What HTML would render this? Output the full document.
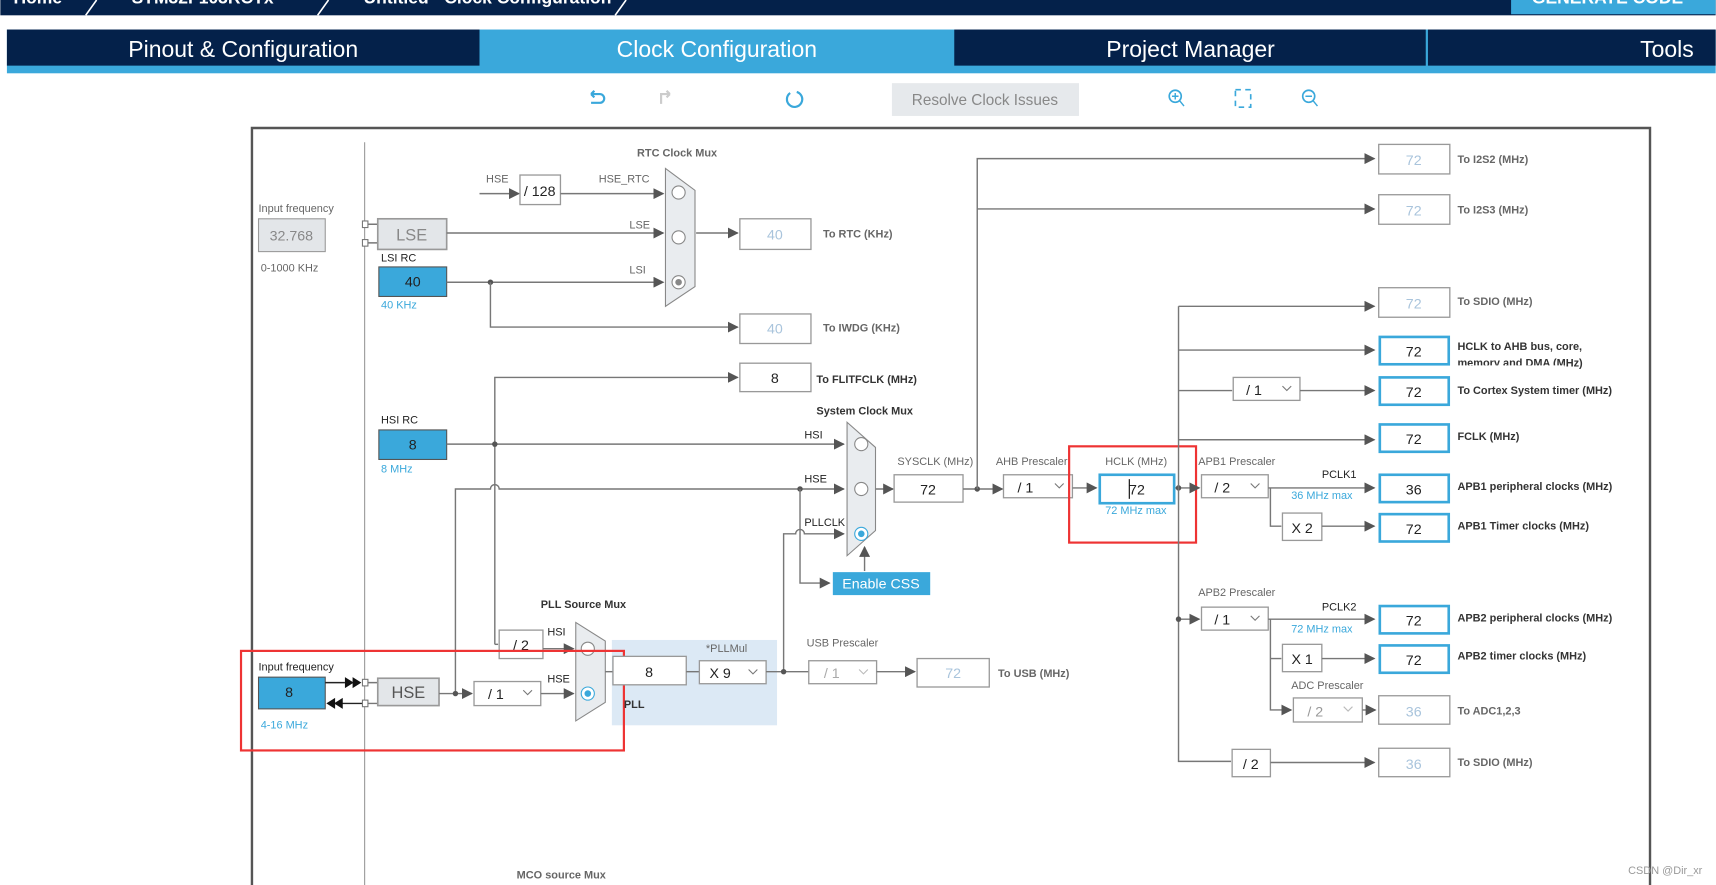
<!DOCTYPE html>
<html><head><meta charset="utf-8"><style>
html,body{margin:0;padding:0;background:#fff;overflow:hidden}
svg{display:block}
text{font-family:"Liberation Sans Narrow","Liberation Sans",sans-serif}
.l{font-size:10px;fill:#666}
.d{font-size:10px;fill:#222}
.b{font-size:10px;fill:#333;font-weight:bold}
.bl{font-size:10px;fill:#3aa8db}
.v{font-size:13px;fill:#222;text-anchor:middle}
.vg{font-size:13px;fill:#a9c4dc;text-anchor:middle}
.ln{stroke:#777;stroke-width:1.3;fill:none}
.bx{fill:#fff;stroke:#999;stroke-width:1.2}
.bb{fill:#fff;stroke:#3aa8db;stroke-width:2.4}
.tab{font-size:21px;fill:#fff;font-family:"Liberation Sans",sans-serif}
</style></head><body>
<svg width="1716" height="885" viewBox="0 0 1568 809" xmlns="http://www.w3.org/2000/svg">
<defs>
<marker id="a" markerWidth="10" markerHeight="10" refX="9" refY="5" orient="auto" markerUnits="userSpaceOnUse"><path d="M0,0 L10,5 L0,10 z" fill="#555"/></marker>
</defs>
<!-- top bar -->
<rect x="0" y="0" width="1568" height="14" fill="#04214a"/>
<text x="12" y="3" font-size="16" fill="#fff" font-weight="bold" font-family="Liberation Sans">Home</text>
<text x="120" y="3" font-size="16" fill="#fff" font-weight="bold" font-family="Liberation Sans">STM32F103RCTx</text>
<text x="332" y="3" font-size="16" fill="#fff" font-weight="bold" font-family="Liberation Sans">Untitled - Clock Configuration</text>
<path d="M78,14 L88,0 M290,14 L300,0 M562,14 L572,0" stroke="#fff" stroke-width="1.5"/>
<rect x="1381" y="0" width="187" height="13" fill="#3aa8db"/>
<text x="1400" y="3" font-size="16" fill="#fff" font-weight="bold" font-family="Liberation Sans">GENERATE CODE</text>
<!-- tabs -->
<rect x="6" y="27" width="1562" height="40" fill="#3aa8db"/>
<rect x="6" y="27" width="432" height="33" fill="#04214a"/>
<rect x="872" y="27" width="431" height="33" fill="#04214a"/>
<rect x="1305" y="27" width="263" height="33" fill="#04214a"/>
<text class="tab" x="222" y="52" style="text-anchor:middle">Pinout &amp; Configuration</text>
<text class="tab" x="655" y="52" style="text-anchor:middle">Clock Configuration</text>
<text class="tab" x="1088" y="52" style="text-anchor:middle">Project Manager</text>
<text class="tab" x="1548" y="52" style="text-anchor:end">Tools</text>
<!-- toolbar -->
<path d="M540,86 h8 a4,4 0 0 1 0,8 h-8 M540,86 l3,-3 M540,86 l3,3" stroke="#3aa8db" stroke-width="2" fill="none"/>
<path d="M612,86 h-8 v9 M612,86 l-3,-3 M612,86 l-3,3" stroke="#ccc" stroke-width="2" fill="none"/>
<path d="M722,85 a7,7 0 1 0 6,-1" stroke="#3aa8db" stroke-width="2" fill="none"/>
<rect x="815" y="76" width="171" height="30" fill="#e6e9ec"/>
<text x="900" y="96" font-size="14" fill="#888" text-anchor="middle">Resolve Clock Issues</text>
<circle cx="1074" cy="88" r="5.5" stroke="#3aa8db" stroke-width="1.5" fill="none"/><path d="M1078,92 l4,5 M1071,88 h6 M1074,85 v6" stroke="#3aa8db" stroke-width="1.3"/>
<rect x="1129" y="82" width="14" height="16" stroke="#3aa8db" stroke-width="1.5" fill="none" stroke-dasharray="5,4"/>
<circle cx="1196" cy="88" r="5.5" stroke="#3aa8db" stroke-width="1.5" fill="none"/><path d="M1200,92 l4,5 M1193,88 h6" stroke="#3aa8db" stroke-width="1.3"/>
<!-- diagram frame -->
<path d="M230,812 V117 H1508 V812" stroke="#555" stroke-width="2.2" fill="none"/>
<line x1="333" y1="130" x2="333" y2="812" stroke="#999" stroke-width="1"/>
<!-- LSE area -->
<text class="l" x="236" y="194">Input frequency</text>
<rect x="236" y="200" width="61" height="30" fill="#e3e6e9" stroke="#999"/>
<text x="266" y="220" font-size="13" fill="#888" text-anchor="middle">32.768</text>
<text class="l" x="238" y="248">0-1000 KHz</text>
<rect x="331" y="202" width="5" height="6" fill="#fff" stroke="#777"/><rect x="331" y="219" width="5" height="6" fill="#fff" stroke="#777"/>
<path d="M336,205 h9 M336,222 h9" class="ln"/>
<rect x="345" y="200" width="63" height="28" fill="#e3e6e9" stroke="#999" stroke-width="1.5"/>
<text x="376" y="220" font-size="15" fill="#888" text-anchor="middle">LSE</text>
<text class="d" x="348" y="239">LSI RC</text>
<rect x="346" y="244" width="62" height="27" fill="#3aa8db" stroke="#555"/>
<text class="v" x="377" y="262">40</text>
<text class="bl" x="348" y="282">40 KHz</text>
<!-- RTC mux -->
<text class="l" x="582" y="143" font-weight="bold">RTC Clock Mux</text>
<text class="l" x="444" y="167">HSE</text>
<line x1="438" y1="177" x2="474" y2="177" class="ln" marker-end="url(#a)"/>
<rect x="475" y="160" width="37" height="27" class="bx"/>
<text class="v" x="493" y="179">/ 128</text>
<text class="l" x="547" y="167">HSE_RTC</text>
<line x1="512" y1="177" x2="606" y2="177" class="ln" marker-end="url(#a)"/>
<text class="l" x="575" y="209">LSE</text>
<line x1="408" y1="213" x2="606" y2="213" class="ln" marker-end="url(#a)"/>
<text class="l" x="575" y="250">LSI</text>
<line x1="408" y1="258" x2="606" y2="258" class="ln" marker-end="url(#a)"/>
<circle cx="448" cy="258" r="2.5" fill="#555"/>
<polygon points="608,154 635,174 635,262 608,280" fill="#e9ecef" stroke="#888"/>
<circle cx="620" cy="176" r="6" fill="#fff" stroke="#888"/><circle cx="620" cy="217" r="6" fill="#fff" stroke="#888"/><circle cx="620" cy="258" r="6" fill="#fff" stroke="#888"/><circle cx="620" cy="258" r="3" fill="#888"/>
<line x1="636" y1="213" x2="674" y2="213" class="ln" marker-end="url(#a)"/>
<rect x="676" y="200" width="65" height="28" class="bx"/><text class="vg" x="708" y="219">40</text>
<text class="l" x="752" y="217" font-weight="bold" font-size="11">To RTC (KHz)</text>
<path d="M448,258 V299 H674" class="ln" marker-end="url(#a)"/>
<rect x="676" y="287" width="65" height="27" class="bx"/><text class="vg" x="708" y="305">40</text>
<text class="l" x="752" y="303" font-weight="bold" font-size="11">To IWDG (KHz)</text>
<!-- FLITF -->
<path d="M452,589 V345 H674" class="ln" marker-end="url(#a)"/>
<rect x="676" y="332" width="65" height="26" class="bx"/><text class="v" x="708" y="350">8</text>
<text class="b" x="746" y="350">To FLITFCLK (MHz)</text>
<!-- HSI -->
<text class="d" x="348" y="387">HSI RC</text>
<rect x="346" y="393" width="62" height="27" fill="#3aa8db" stroke="#555"/>
<text class="v" x="377" y="411">8</text>
<text class="bl" x="348" y="432">8 MHz</text>
<line x1="408" y1="406" x2="771" y2="406" class="ln" marker-end="url(#a)"/>
<circle cx="452" cy="406" r="2.5" fill="#555"/>
<text class="d" x="735" y="401">HSI</text>
<path d="M416,634 V447 H448 a4,4 0 0 1 8,0 H771" class="ln" marker-end="url(#a)"/>
<text class="d" x="735" y="441">HSE</text>
<circle cx="731" cy="447" r="2.5" fill="#555"/>
<path d="M731,447 V533 H758" class="ln" marker-end="url(#a)"/>
<path d="M716,614 V488 H727 a4,4 0 0 1 8,0 H771" class="ln" marker-end="url(#a)"/>
<text class="d" x="735" y="481">PLLCLK</text>
<text class="b" x="746" y="379">System Clock Mux</text>
<polygon points="774,386 800,409 800,485 774,508" fill="#e9ecef" stroke="#888"/>
<circle cx="787" cy="406" r="6" fill="#fff" stroke="#888"/><circle cx="787" cy="447" r="6" fill="#fff" stroke="#888"/><circle cx="787" cy="488" r="6" fill="#fff" stroke="#3aa8db"/><circle cx="787" cy="488" r="3" fill="#3aa8db"/>
<line x1="790" y1="522" x2="790" y2="500" class="ln" marker-end="url(#a)"/>
<rect x="761" y="523" width="89" height="21" fill="#3aa8db"/>
<text x="805" y="538" font-size="13" fill="#fff" text-anchor="middle">Enable CSS</text>
<!-- SYSCLK -->
<text class="l" x="820" y="425">SYSCLK (MHz)</text>
<line x1="800" y1="447" x2="816" y2="447" class="ln" marker-end="url(#a)"/>
<rect x="817" y="434" width="63" height="25" class="bx"/><text class="v" x="848" y="452">72</text>
<line x1="880" y1="447" x2="916" y2="447" class="ln" marker-end="url(#a)"/>
<circle cx="893" cy="447" r="2.5" fill="#555"/>
<path d="M893,447 V145 H1256" class="ln" marker-end="url(#a)"/>
<line x1="893" y1="191" x2="1256" y2="191" class="ln" marker-end="url(#a)"/>
<rect x="1260" y="132" width="65" height="27" class="bx"/><text class="vg" x="1292" y="151">72</text>
<text class="l" x="1332" y="149" font-weight="bold">To I2S2 (MHz)</text>
<rect x="1260" y="178" width="65" height="27" class="bx"/><text class="vg" x="1292" y="197">72</text>
<text class="l" x="1332" y="195" font-weight="bold">To I2S3 (MHz)</text>
<!-- AHB -->
<text class="l" x="910" y="425">AHB Prescaler</text>
<rect x="917" y="434" width="63" height="21" class="bx"/><text class="v" x="937" y="450">/ 1</text><path d="M964,442 l4,4 l4,-4" stroke="#777" fill="none"/>
<line x1="980" y1="446" x2="1002" y2="446" class="ln" marker-end="url(#a)"/>
<text class="l" x="1010" y="425">HCLK (MHz)</text>
<rect x="1005" y="434" width="68" height="26" class="bb"/><text class="v" x="1039" y="452">72</text>
<line x1="1032" y1="438" x2="1032" y2="456" stroke="#000"/>
<text class="bl" x="1010" y="470">72 MHz max</text>
<rect x="977" y="408" width="116" height="88" fill="none" stroke="#e33" stroke-width="2"/>
<line x1="1074" y1="446" x2="1096" y2="446" class="ln" marker-end="url(#a)"/>
<circle cx="1077" cy="446" r="2.5" fill="#555"/>
<path d="M1077,280 V696 H1125" class="ln"/>
<line x1="1077" y1="280" x2="1256" y2="280" class="ln" marker-end="url(#a)"/>
<rect x="1260" y="263" width="65" height="27" class="bx"/><text class="vg" x="1292" y="282">72</text>
<text class="l" x="1332" y="279" font-weight="bold">To SDIO (MHz)</text>
<line x1="1077" y1="320" x2="1256" y2="320" class="ln" marker-end="url(#a)"/>
<rect x="1261" y="308" width="63" height="25" class="bb"/><text class="v" x="1292" y="326">72</text>
<text class="b" x="1332" y="320">HCLK to AHB bus, core,</text>
<text class="b" x="1332" y="335">memory and DMA (MHz)</text>
<rect x="1330" y="334" width="100" height="8" fill="#fff"/>
<line x1="1077" y1="357" x2="1126" y2="357" class="ln"/>
<rect x="1127" y="345" width="61" height="21" class="bx"/><text class="v" x="1146" y="361">/ 1</text><path d="M1172,353 l4,4 l4,-4" stroke="#777" fill="none"/>
<line x1="1188" y1="357" x2="1256" y2="357" class="ln" marker-end="url(#a)"/>
<rect x="1261" y="345" width="63" height="25" class="bb"/><text class="v" x="1292" y="363">72</text>
<text class="b" x="1332" y="360">To Cortex System timer (MHz)</text>
<line x1="1077" y1="402" x2="1256" y2="402" class="ln" marker-end="url(#a)"/>
<rect x="1261" y="388" width="63" height="25" class="bb"/><text class="v" x="1292" y="406">72</text>
<text class="b" x="1332" y="402">FCLK (MHz)</text>
<!-- APB1 -->
<text class="l" x="1095" y="425">APB1 Prescaler</text>
<rect x="1098" y="434" width="61" height="21" class="bx"/><text class="v" x="1117" y="450">/ 2</text><path d="M1143,442 l4,4 l4,-4" stroke="#777" fill="none"/>
<line x1="1159" y1="446" x2="1256" y2="446" class="ln" marker-end="url(#a)"/>
<text class="d" x="1208" y="437">PCLK1</text>
<text class="bl" x="1180" y="456">36 MHz max</text>
<rect x="1261" y="434" width="63" height="25" class="bb"/><text class="v" x="1292" y="452">36</text>
<text class="b" x="1332" y="448">APB1 peripheral clocks (MHz)</text>
<path d="M1161,446 V481 H1171" class="ln"/>
<rect x="1172" y="469" width="36" height="25" class="bx"/><text class="v" x="1190" y="487">X 2</text>
<line x1="1208" y1="481" x2="1256" y2="481" class="ln" marker-end="url(#a)"/>
<rect x="1261" y="470" width="63" height="25" class="bb"/><text class="v" x="1292" y="488">72</text>
<text class="b" x="1332" y="484">APB1 Timer clocks (MHz)</text>
<!-- APB2 -->
<text class="l" x="1095" y="545">APB2 Prescaler</text>
<line x1="1077" y1="566" x2="1096" y2="566" class="ln" marker-end="url(#a)"/>
<circle cx="1077" cy="566" r="2.5" fill="#555"/>
<rect x="1098" y="555" width="61" height="21" class="bx"/><text class="v" x="1117" y="571">/ 1</text><path d="M1143,563 l4,4 l4,-4" stroke="#777" fill="none"/>
<line x1="1159" y1="566" x2="1256" y2="566" class="ln" marker-end="url(#a)"/>
<text class="d" x="1208" y="558">PCLK2</text>
<text class="bl" x="1180" y="578">72 MHz max</text>
<rect x="1261" y="554" width="63" height="25" class="bb"/><text class="v" x="1292" y="572">72</text>
<text class="b" x="1332" y="568">APB2 peripheral clocks (MHz)</text>
<path d="M1161,566 V649 H1180" class="ln" marker-end="url(#a)"/>
<line x1="1161" y1="602" x2="1171" y2="602" class="ln"/>
<rect x="1172" y="589" width="36" height="25" class="bx"/><text class="v" x="1190" y="607">X 1</text>
<line x1="1208" y1="602" x2="1256" y2="602" class="ln" marker-end="url(#a)"/>
<rect x="1261" y="590" width="63" height="25" class="bb"/><text class="v" x="1292" y="608">72</text>
<text class="b" x="1332" y="603">APB2 timer clocks (MHz)</text>
<text class="l" x="1180" y="630">ADC Prescaler</text>
<rect x="1182" y="638" width="63" height="22" class="bx"/><text class="vg" x="1202" y="655" style="fill:#999">/ 2</text><path d="M1228,646 l4,4 l4,-4" stroke="#bbb" fill="none"/>
<line x1="1245" y1="649" x2="1257" y2="649" class="ln" marker-end="url(#a)"/>
<rect x="1260" y="636" width="65" height="26" class="bx"/><text class="vg" x="1292" y="655">36</text>
<text class="l" x="1332" y="653" font-weight="bold">To ADC1,2,3</text>
<rect x="1126" y="685" width="35" height="25" class="bx"/><text class="v" x="1143" y="703">/ 2</text>
<line x1="1161" y1="697" x2="1256" y2="697" class="ln" marker-end="url(#a)"/>
<rect x="1260" y="684" width="65" height="26" class="bx"/><text class="vg" x="1292" y="703">36</text>
<text class="l" x="1332" y="700" font-weight="bold">To SDIO (MHz)</text>
<!-- PLL -->
<rect x="559" y="585" width="151" height="78" fill="#dce9f5"/>
<text class="b" x="494" y="556">PLL Source Mux</text>
<path d="M452,589 H455" class="ln"/>
<rect x="456" y="576" width="40" height="26" class="bx"/><text class="v" x="476" y="594">/ 2</text>
<text class="d" x="500" y="581">HSI</text>
<line x1="496" y1="593" x2="524" y2="593" class="ln" marker-end="url(#a)"/>
<text class="d" x="500" y="624">HSE</text>
<polygon points="526,569 553,586 553,642 526,659" fill="#e9ecef" stroke="#888"/>
<circle cx="537" cy="593" r="6" fill="#fff" stroke="#888"/>
<circle cx="537" cy="634" r="6" fill="#fff" stroke="#3aa8db"/><circle cx="537" cy="634" r="3" fill="#3aa8db"/>
<text class="d" x="236" y="613">Input frequency</text>
<rect x="236" y="619" width="61" height="29" fill="#3aa8db" stroke="#555"/>
<text class="v" x="264" y="637">8</text>
<text class="bl" x="238" y="666">4-16 MHz</text>
<path d="M297,624 h18 M333,643 h-30" stroke="#222" stroke-width="1.3"/>
<path d="M315,619 l8,5 l-8,5 z M322,619 l8,5 l-8,5 z M306,638 l-8,5 l8,5 z M313,638 l-8,5 l8,5 z" fill="#111"/>
<rect x="331" y="621" width="5" height="6" fill="#fff" stroke="#777"/><rect x="331" y="640" width="5" height="6" fill="#fff" stroke="#777"/>
<path d="M336,624 h9 M336,643 h9" class="ln"/>
<rect x="345" y="620" width="56" height="25" fill="#e3e6e9" stroke="#999" stroke-width="1.5"/>
<text x="373" y="638" font-size="15" fill="#555" text-anchor="middle">HSE</text>
<line x1="401" y1="634" x2="431" y2="634" class="ln" marker-end="url(#a)"/>
<circle cx="416" cy="634" r="2.5" fill="#555"/>
<rect x="433" y="623" width="61" height="22" class="bx"/><text class="v" x="453" y="639">/ 1</text><path d="M478,631 l4,4 l4,-4" stroke="#777" fill="none"/>
<line x1="494" y1="634" x2="524" y2="634" class="ln" marker-end="url(#a)"/>
<rect x="220" y="595" width="350" height="91" fill="none" stroke="#e33" stroke-width="2"/>
<line x1="553" y1="614" x2="560" y2="614" class="ln"/>
<rect x="560" y="600" width="67" height="26" class="bx"/><text class="v" x="593" y="619">8</text>
<text class="b" x="570" y="647">PLL</text>
<text class="l" x="645" y="596">*PLLMul</text>
<line x1="627" y1="614" x2="639" y2="614" class="ln"/>
<rect x="639" y="604" width="61" height="21" class="bx"/><text class="v" x="658" y="620">X 9</text><path d="M684,612 l4,4 l4,-4" stroke="#777" fill="none"/>
<line x1="700" y1="614" x2="739" y2="614" class="ln"/>
<circle cx="716" cy="614" r="2.5" fill="#555"/>
<text class="l" x="737" y="591">USB Prescaler</text>
<rect x="739" y="604" width="62" height="21" class="bx"/><text class="vg" x="760" y="620" style="fill:#aaa">/ 1</text><path d="M785,612 l4,4 l4,-4" stroke="#bbb" fill="none"/>
<line x1="801" y1="614" x2="836" y2="614" class="ln" marker-end="url(#a)"/>
<rect x="838" y="602" width="66" height="26" class="bx"/><text class="vg" x="871" y="620">72</text>
<text class="l" x="912" y="619" font-weight="bold" font-size="11">To USB (MHz)</text>
<text class="l" x="472" y="803" font-weight="bold">MCO source Mux</text>
<text x="1488" y="799" font-size="10" fill="#999">CSDN @Dir_xr</text>
</svg>
</body></html>
